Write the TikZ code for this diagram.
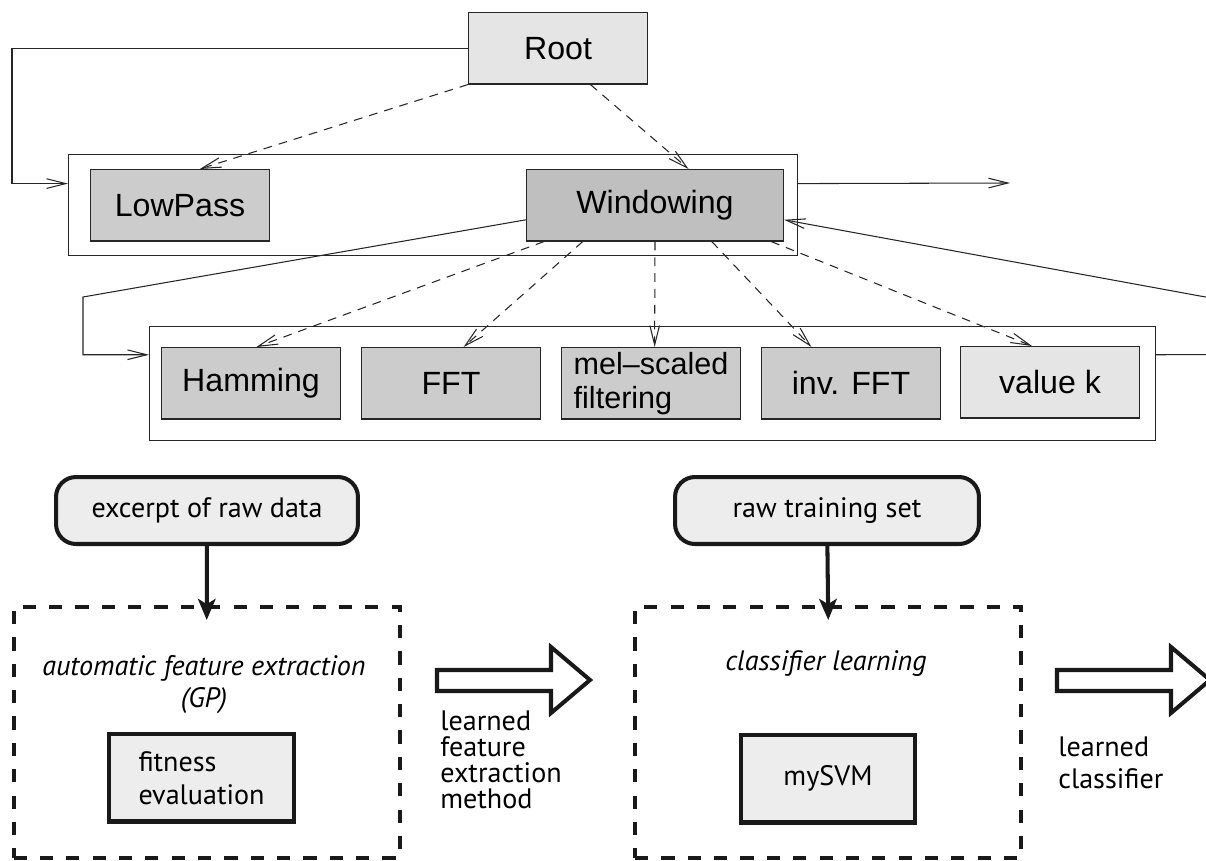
\documentclass[tikz,border=0pt]{standalone}
\usepackage{fontspec}
\setsansfont{Liberation Sans}
\newfontfamily\ptsans{PT Sans}
\usepackage{tikz}
\usetikzlibrary{arrows.meta,positioning,calc}

\begin{document}
\begin{tikzpicture}[x=0.02cm, y=-0.02cm,
	opnode/.style={draw=black!85, line width=0.6pt, fill=black!20, inner sep=0pt, anchor=north west, minimum width=3.58cm, minimum height=1.43cm, font=\sffamily\fontsize{18.3}{21}\selectfont},
	groupbox/.style={draw=black!85, line width=0.6pt, anchor=north west, inner sep=0pt},
	tree/.style={draw=black!85, line width=0.6pt, -{Straight Barb[length=11pt,width=5.5pt]}},
	treedash/.style={tree, dash pattern=on 5pt off 4pt},
	datanode/.style={draw=black!90, line width=2.3pt, fill=black!7, rounded corners=0.4cm, inner sep=0pt, anchor=north west, minimum height=1.34cm, font=\ptsans\fontsize{16}{19}\selectfont},
	stagebox/.style={draw=black!90, line width=2.3pt, dash pattern=on 7.5pt off 7.5pt, anchor=north west, inner sep=0pt, minimum width=7.73cm, minimum height=5.02cm},
	toolnode/.style={draw=black!90, line width=2.3pt, fill=black!7, inner sep=0pt, anchor=north west, minimum height=1.75cm, font=\ptsans\fontsize{16}{18.8}\selectfont},
	feed/.style={draw=black!90, line width=2.3pt, -{Stealth[length=12pt,width=10pt,inset=3pt]}},
	caption/.style={anchor=north west, inner sep=0pt, align=left},
	hollow/.style={draw=black!90, line width=2.3pt, line join=miter}
]
	\useasboundingbox (0,0) rectangle (1206,861);

	\node[groupbox, minimum width=14.58cm, minimum height=2.02cm] (grp1) at (68,154) {};
	\node[opnode, fill=black!10] (root) at (468,12) {Root};
	\node[opnode] (low) at (90,169) {LowPass};
	\node[opnode, fill=black!25, minimum width=5.14cm] (win) at (526,169) {Windowing};

	\node[groupbox, minimum width=20.12cm, minimum height=2.28cm] (grp2) at (149,326) {};
	\node[opnode] (ham) at (161,347) {Hamming};
	\node[opnode] (fft) at (361,347) {FFT};
	\node[opnode, align=left, font=\sffamily\fontsize{17.4}{19.5}\selectfont] (mel) at (561,347) {mel–scaled\\filtering};
	\node[opnode] (ifft) at (761,347) {inv. FFT};
	\node[opnode, fill=black!10] (valk) at (960,346) {value k};

	\coordinate (out) at (1010,183);
	\draw[tree] (root.west) -- ++(-456,0) |- ($(grp1.north west)!0.29!(grp1.south west)$);
	\draw[tree] ($(grp1.north east)!0.29!(grp1.south east)$) -- (out);
	\draw[treedash] (root.south west) -- ($(low.north west)!0.61!(low.north east)$);
	\draw[treedash] ($(root.south west)!0.68!(root.south east)$) -- ($(win.north west)!0.63!(win.north east)$);

	\draw[tree] ($(win.south west)!0.3!(win.north west)$) -- (83,297) |- ($(grp2.north west)!0.25!(grp2.south west)$);
	\draw[tree] ($(grp2.north east)!0.25!(grp2.south east)$) -- (1230,354.5) -- (1230,301.5) -- ($(win.south east)!0.3!(win.north east)$);
	\draw[treedash] ($(win.south west)!0.07!(win.south east)$) -- ($(ham.north west)!0.53!(ham.north east)$);
	\draw[treedash] ($(win.south west)!0.22!(win.south east)$) -- ($(fft.north west)!0.57!(fft.north east)$);
	\draw[treedash] (win.south) -- ($(mel.north west)!0.52!(mel.north east)$);
	\draw[treedash] ($(win.south west)!0.72!(win.south east)$) -- ($(ifft.north west)!0.28!(ifft.north east)$);
	\draw[treedash] ($(win.south west)!0.95!(win.south east)$) -- ($(valk.north west)!0.4!(valk.north east)$);

	\node[stagebox] (gp) at (11.5,605) {};
	\node[stagebox] (cls) at (633,605) {};
	\node[datanode, minimum width=6.04cm] (excerpt) at (54,475) {excerpt of raw data};
	\node[datanode, minimum width=6.08cm] (trainset) at (673,475) {raw training set};
	\coordinate (gpin) at ($(gp.north)+(0,15)$);
	\coordinate (clsin) at ($(cls.north)+(0,15)$);
	\draw[feed] (excerpt) -- (gpin);
	\draw[feed] (trainset) -- (clsin);

	\node[anchor=north, inner sep=0pt, align=center, font=\ptsans\itshape\fontsize{16}{15.5}\selectfont] (gptitle) at (204,655) {automatic feature extraction\\[3pt](GP)};
	\node[toolnode, minimum width=3.7cm, align=left] (fit) at (107,732) {fitness\\evaluation};
	\node[anchor=base, inner sep=0pt, font=\ptsans\itshape\fontsize{16}{19}\selectfont] (clstitle) at (826,670) {classifier learning};
	\node[toolnode, minimum width=3.48cm] (svm) at (739,733) {mySVM};

	\draw[hollow] (437,670) -- (551,670) -- (551,647) -- (590,680) -- (551,713) -- (551,691) -- (437,691) -- cycle;
	\draw[hollow, shift={(620,0)}] (437,670) -- (551,670) -- (551,647) -- (590,680) -- (551,713) -- (551,691) -- (437,691) -- cycle;
	\node[caption, font=\ptsans\fontsize{16}{14.8}\selectfont] (featlbl) at (440,710) {learned\\feature\\extraction\\method};
	\node[caption, font=\ptsans\fontsize{16}{18.2}\selectfont] (clslbl) at (1058,736) {learned\\classifier};
\end{tikzpicture}
\end{document}
